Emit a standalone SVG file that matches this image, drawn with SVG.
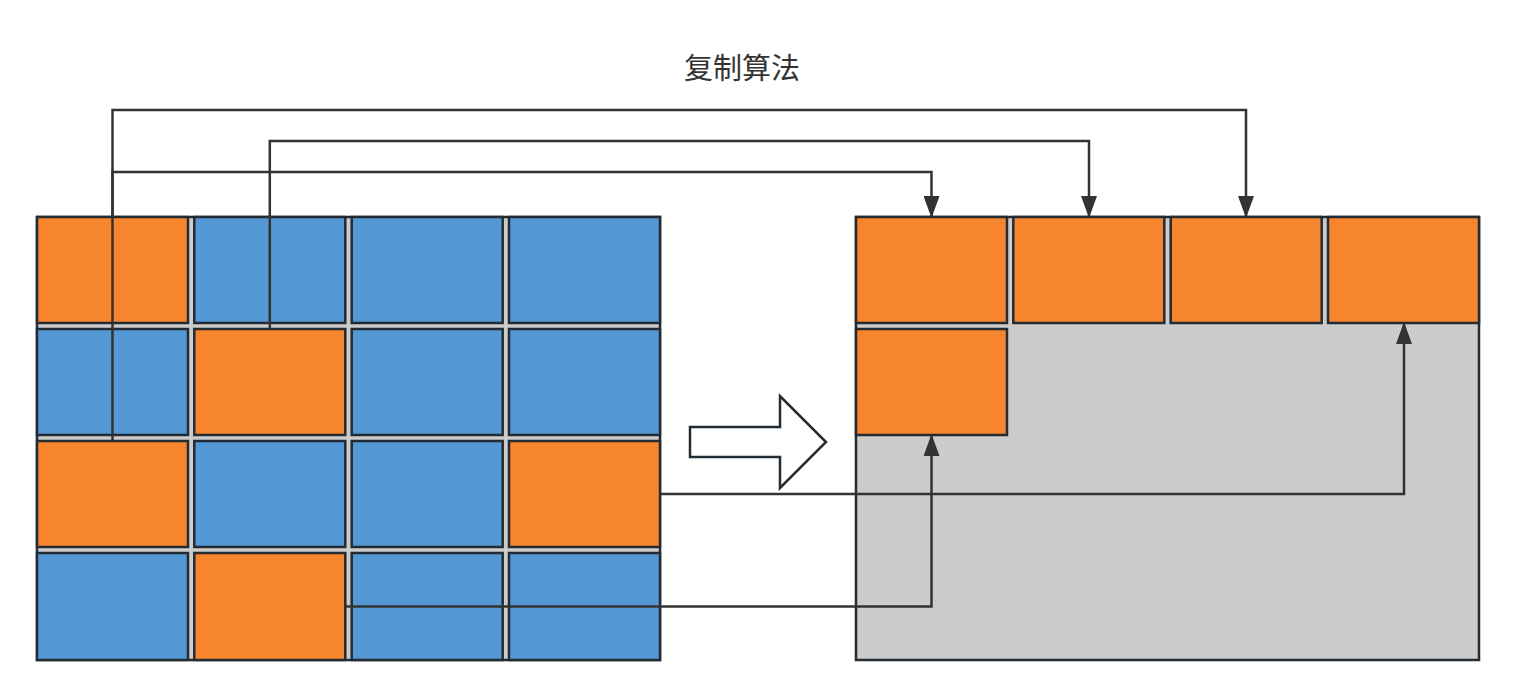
<svg xmlns="http://www.w3.org/2000/svg" width="1516" height="697" viewBox="0 0 1516 697">
<defs>
<style>
.bg{fill:#cccccc;stroke:#232b33;stroke-width:2.5}
.o{fill:#f6852e;stroke:#232b33;stroke-width:2.5}
.b{fill:#5598d6;stroke:#232b33;stroke-width:2.5}
.e{fill:none;stroke:#333333;stroke-width:2.5}
.t{font-family:"Noto Sans CJK SC","Noto Sans",sans-serif;font-size:29px;fill:#333333}
</style>
<marker id="arr" markerUnits="userSpaceOnUse" markerWidth="22" markerHeight="16" refX="21" refY="8" orient="auto" viewBox="0 0 22 16">
<path d="M0,0 L22,8 L0,16 z" fill="#333333"/>
</marker>
</defs>
<rect width="1516" height="697" fill="#ffffff"/>
<text class="t" x="742" y="79" text-anchor="middle">复制算法</text>
<g id="left-grid">
<rect class="bg" x="37" y="217" width="623" height="443"/>
<rect id="l00" class="o" x="37" y="217" width="151" height="106"/>
<rect id="l01" class="b" x="194.3" y="217" width="151" height="106"/>
<rect id="l02" class="b" x="351.7" y="217" width="151" height="106"/>
<rect id="l03" class="b" x="509" y="217" width="151" height="106"/>
<rect id="l10" class="b" x="37" y="329" width="151" height="106"/>
<rect id="l11" class="o" x="194.3" y="329" width="151" height="106"/>
<rect id="l12" class="b" x="351.7" y="329" width="151" height="106"/>
<rect id="l13" class="b" x="509" y="329" width="151" height="106"/>
<rect id="l20" class="o" x="37" y="441" width="151" height="106"/>
<rect id="l21" class="b" x="194.3" y="441" width="151" height="106"/>
<rect id="l22" class="b" x="351.7" y="441" width="151" height="106"/>
<rect id="l23" class="o" x="509" y="441" width="151" height="106"/>
<rect id="l30" class="b" x="37" y="553" width="151" height="107"/>
<rect id="l31" class="o" x="194.3" y="553" width="151" height="107"/>
<rect id="l32" class="b" x="351.7" y="553" width="151" height="107"/>
<rect id="l33" class="b" x="509" y="553" width="151" height="107"/>
</g>
<g id="right-grid">
<rect class="bg" x="856" y="217" width="623" height="443"/>
<rect id="r00" class="o" x="856" y="217" width="151" height="106"/>
<rect id="r01" class="o" x="1013.3" y="217" width="151" height="106"/>
<rect id="r02" class="o" x="1170.7" y="217" width="151" height="106"/>
<rect id="r03" class="o" x="1328" y="217" width="151" height="106"/>
<rect id="r10" class="o" x="856" y="329" width="151" height="106"/>
</g>
<g id="big-arrow">
<path d="M690,427 H780 V396 L826,442 L780,488 V457 H690 z" fill="#ffffff" stroke="#232b33" stroke-width="2.5"/>
</g>
<g id="connectors">
<path class="e" d="M112.5,217 V172 H931.5 V217" marker-end="url(#arr)"/>
<path class="e" d="M269.8,329 V141 H1089 V217" marker-end="url(#arr)"/>
<path class="e" d="M112.5,441 V110 H1246 V217" marker-end="url(#arr)"/>
<path class="e" d="M660,494 H1404 V323" marker-end="url(#arr)"/>
<path class="e" d="M345.3,606.5 H931.5 V435" marker-end="url(#arr)"/>
</g>
</svg>
